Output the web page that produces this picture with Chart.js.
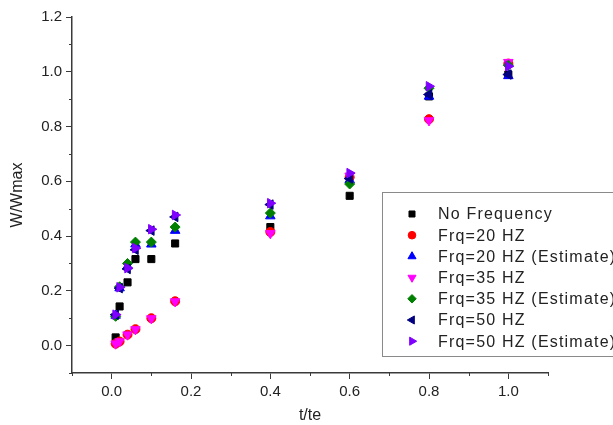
<!DOCTYPE html>
<html>
<head>
<meta charset="utf-8">
<script src="https://cdn.jsdelivr.net/npm/chart.js@4.4.1/dist/chart.umd.min.js"></script>
<style>
  html, body { margin: 0; padding: 0; background: #fff; overflow: hidden; }
  #wrap { width: 613px; height: 425px; position: relative; }
</style>
</head>
<body>
<div id="wrap"><canvas id="chart"></canvas></div>
<script>
/*Data*/
var tTe = [0.01, 0.02, 0.04, 0.06, 0.1, 0.16, 0.4, 0.6, 0.8, 1.0];
var noFreq   = [0.03, 0.143, 0.231, 0.316, 0.316, 0.373, 0.433, 0.547, 0.91, 0.99];
var frq20    = [0.007, 0.015, 0.04, 0.06, 0.1, 0.162, 0.415, 0.615, 0.827, 1.03];
var frq20Est = [0.11, 0.21, 0.29, 0.37, 0.37, 0.42, 0.473, 0.605, 0.91, 0.985];
var frq35    = [0.007, 0.015, 0.04, 0.059, 0.099, 0.161, 0.41, 0.62, 0.822, 1.035];
var frq35Est = [0.107, 0.215, 0.30, 0.378, 0.378, 0.433, 0.484, 0.59, 0.94, 1.024];
var frq50    = [0.113, 0.21, 0.28, 0.35, 0.42, 0.47, 0.515, 0.61, 0.917, 0.99];
var frq50Est = [0.113, 0.213, 0.283, 0.356, 0.425, 0.477, 0.52, 0.63, 0.947, 1.02];

var seriesNames = ['No Frequency', 'Frq=20 HZ', 'Frq=20 HZ (Estimate)', 'Frq=35 HZ',
                   'Frq=35 HZ (Estimate)', 'Frq=50 HZ', 'Frq=50 HZ (Estimate)'];
var seriesValues = [noFreq, frq20, frq20Est, frq35, frq35Est, frq50, frq50Est];

/*Styles*/
var colors = ['#000000', '#ff0000', '#0000ff', '#ff00ff', '#008000', '#000080', '#8000ff'];
var shapes = ['rect', 'circle', 'triangle', 'triangle', 'rectRot', 'triangle', 'triangle'];
var rotations = [0, 0, 0, 180, 0, -90, 90];
var radii = [5, 4.5, 5.5, 5.5, 5, 5.5, 5.5];
var axisColor = '#3a3a3a';
var textColor = '#222222';
var fontFamily = '"Liberation Sans", Arial, sans-serif';

function toPoints(values) {
    return values.map(function(v, i) { return {x: tTe[i], y: v}; });
}

var datasets = seriesValues.map(function(values, i) {
    return {
        label: seriesNames[i],
        data: toPoints(values),
        backgroundColor: colors[i],
        borderColor: colors[i],
        borderWidth: 1,
        pointStyle: shapes[i],
        rotation: rotations[i],
        pointRadius: radii[i],
        pointHoverRadius: radii[i],
        showLine: false,
        order: seriesValues.length - i
    };
});

/*Minor ticks + legend box*/
var extrasPlugin = {
    id: 'extras',
    afterDraw: function(chart) {
        var ctx = chart.ctx;
        var xs = chart.scales.x, ys = chart.scales.y;
        var area = chart.chartArea;
        ctx.save();
        ctx.strokeStyle = axisColor;
        ctx.lineWidth = 1;
        ctx.beginPath();
        var k, p;
        for (k = -1; k <= 11; k += 2) {
            p = Math.round(xs.getPixelForValue(k / 10)) + 0.5;
            ctx.moveTo(p, area.bottom);
            ctx.lineTo(p, area.bottom + 3);
        }
        for (k = -1; k <= 11; k += 2) {
            p = Math.round(ys.getPixelForValue(k / 10)) + 0.5;
            ctx.moveTo(area.left, p);
            ctx.lineTo(area.left - 3, p);
        }
        ctx.stroke();

        /*Legend*/
        var lx = 382.5, ly = 192.5, lw = 260, lh = 164;
        ctx.fillStyle = '#ffffff';
        ctx.fillRect(lx, ly, lw, lh);
        ctx.strokeStyle = '#8a8a8a';
        ctx.lineWidth = 1;
        ctx.strokeRect(lx, ly, lw, lh);
        ctx.font = '16px ' + fontFamily;
        ctx.letterSpacing = '1.2px';
        ctx.textBaseline = 'middle';
        for (var i = 0; i < seriesNames.length; i++) {
            var ry = 214 + i * 21.2;
            var r = radii[i] * 0.85;
            ctx.fillStyle = colors[i];
            ctx.strokeStyle = colors[i];
            ctx.beginPath();
            Chart.helpers.drawPoint(ctx, {
                pointStyle: shapes[i], rotation: rotations[i], radius: r, borderWidth: 1
            }, 412, ry);
            ctx.fillStyle = textColor;
            ctx.fillText(seriesNames[i], 438, ry + 1);
        }
        ctx.restore();
    }
};

function tickLabel(value) {
    var n = Math.round(value * 10);
    if (n % 2 !== 0 || n < 0) return '';
    return (n / 10).toFixed(1);
}

function majorColor(c) {
    var n = Math.round(c.tick.value * 10);
    return n % 2 === 0 ? axisColor : 'rgba(0,0,0,0)';
}

new Chart(document.getElementById('chart'), {
    type: 'scatter',
    data: { datasets: datasets },
    options: {
        responsive: true,
        maintainAspectRatio: false,
        animation: false,
        layout: { padding: { top: 17, right: 65, bottom: 0, left: 0 } },
        plugins: {
            legend: { display: false },
            tooltip: { enabled: false }
        },
        scales: {
            x: {
                type: 'linear',
                min: -0.1,
                max: 1.1,
                afterFit: function(scale) { scale.height = 52; },
                border: { display: true, color: axisColor, width: 1.5 },
                grid: { drawOnChartArea: false, tickLength: 6, color: majorColor },
                ticks: {
                    stepSize: 0.1,
                    autoSkip: false,
                    maxRotation: 0,
                    padding: 4,
                    color: textColor,
                    font: { family: fontFamily, size: 15 },
                    callback: tickLabel
                },
                title: {
                    display: true,
                    text: 't/te',
                    color: textColor,
                    font: { family: fontFamily, size: 16 },
                    padding: { top: 2, bottom: 0 }
                }
            },
            y: {
                type: 'linear',
                min: -0.1,
                max: 1.2,
                afterFit: function(scale) { scale.width = 72; },
                border: { display: true, color: axisColor, width: 1.5 },
                grid: { drawOnChartArea: false, tickLength: 6, color: majorColor },
                ticks: {
                    stepSize: 0.1,
                    autoSkip: false,
                    padding: 4,
                    color: textColor,
                    font: { family: fontFamily, size: 15 },
                    callback: tickLabel
                },
                title: {
                    display: true,
                    text: 'W/Wmax',
                    color: textColor,
                    font: { family: fontFamily, size: 16 },
                    padding: { top: 8, bottom: 2 }
                }
            }
        }
    },
    plugins: [extrasPlugin]
});
</script>
</body>
</html>
